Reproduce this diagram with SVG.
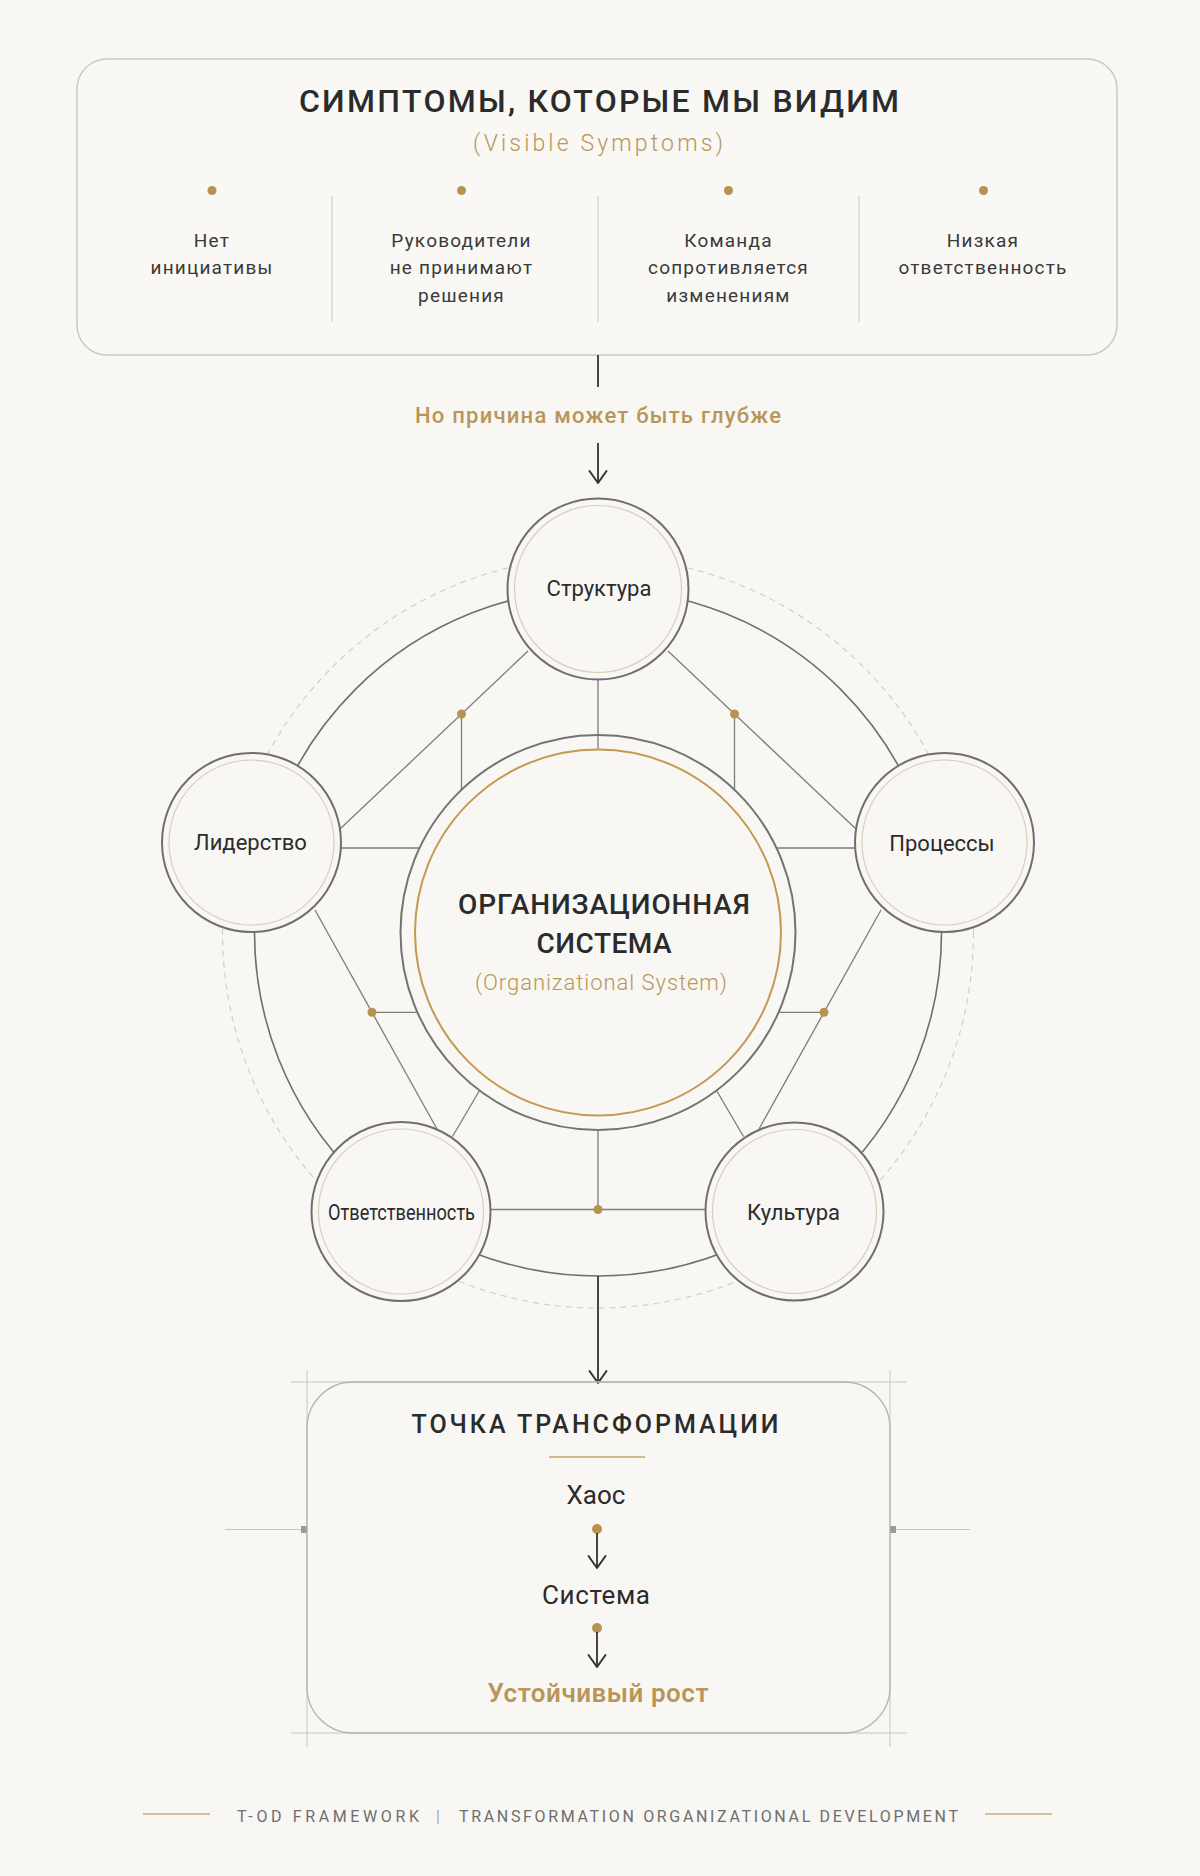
<svg xmlns="http://www.w3.org/2000/svg" width="1200" height="1876" viewBox="0 0 1200 1876">
  <defs>
    <marker id="arr" viewBox="-14 -10 16 20" refX="0" refY="0" markerWidth="16" markerHeight="20" markerUnits="userSpaceOnUse" orient="auto" overflow="visible">
      <path d="M-12,-8.5 L0,0 L-12,8.5" fill="none" stroke="#333333" stroke-width="2" stroke-linecap="round" stroke-linejoin="round"/>
    </marker>
    <style>
      .f { font-family: Roboto, "Noto Sans", "Liberation Sans", sans-serif; }
      .dark { fill: #2b2b2b; }
      .gold { fill: #b8965a; }
      .ln { stroke: #7c7c7c; stroke-width: 1.3; fill: none; }
      .ring { stroke: #6f6f6f; stroke-width: 1.6; fill: none; }
      .dash { stroke: #cfcfcf; stroke-width: 1.2; fill: none; stroke-dasharray: 6 5; }
      .dot { fill: #b8924f; }
      .arrow { stroke: #333333; stroke-width: 1.8; fill: none; }
      .node-o { fill: #f8f7f3; stroke: #6f6f6f; stroke-width: 2; }
      .node-i { fill: none; stroke: #d9cfba; stroke-width: 1.2; }
      .guide { stroke: #c6c6c6; stroke-width: 1; fill: none; }
      .item { font-size: 19px; font-weight: 400; letter-spacing: 1.2px; }
      .nlabel { font-size: 22px; font-weight: 400; }
    </style>
  </defs>

  <rect x="0" y="0" width="1200" height="1876" fill="#f8f7f3"/>

  <!-- Top symptoms box -->
  <g id="symptoms">
    <rect x="77" y="59" width="1040" height="296" rx="30" fill="#f9f8f5" stroke="#c9c9c9" stroke-width="1.5"/>
    <text class="f dark" x="599" y="112" font-size="32" font-weight="500" text-anchor="middle" textLength="600" lengthAdjust="spacing">СИМПТОМЫ, КОТОРЫЕ МЫ ВИДИМ</text>
    <text class="f gold" x="598" y="151" font-size="23" font-weight="300" text-anchor="middle" textLength="250" lengthAdjust="spacing">(Visible Symptoms)</text>
    <line class="guide" x1="332" y1="196" x2="332" y2="322" stroke="#d2d2d2"/>
    <line class="guide" x1="598" y1="196" x2="598" y2="322" stroke="#d2d2d2"/>
    <line class="guide" x1="859" y1="196" x2="859" y2="322" stroke="#d2d2d2"/>
    <circle class="dot" cx="212" cy="190.5" r="4.5"/>
    <circle class="dot" cx="461.5" cy="190.5" r="4.5"/>
    <circle class="dot" cx="728.5" cy="190.5" r="4.5"/>
    <circle class="dot" cx="983.5" cy="190.5" r="4.5"/>
    <g class="f item" fill="#3a3a3a" text-anchor="middle">
      <text x="212" y="247">Нет</text>
      <text x="212" y="274">инициативы</text>
      <text x="461.5" y="247">Руководители</text>
      <text x="461.5" y="274">не принимают</text>
      <text x="461.5" y="301.5">решения</text>
      <text x="728.5" y="247">Команда</text>
      <text x="728.5" y="274">сопротивляется</text>
      <text x="728.5" y="301.5">изменениям</text>
      <text x="983" y="247">Низкая</text>
      <text x="983" y="274">ответственность</text>
    </g>
  </g>

  <text id="cause-label" class="f gold" x="598" y="422.5" font-size="22" font-weight="500" text-anchor="middle" textLength="366" lengthAdjust="spacing">Но причина может быть глубже</text>

  <!-- Connectors -->
  <g id="connectors">
    <line x1="598" y1="355" x2="598" y2="387" class="arrow"/>
    <line x1="598" y1="443" x2="598" y2="483" class="arrow" marker-end="url(#arr)"/>

    <circle class="dash" cx="598" cy="932.5" r="375.5"/>
    <circle class="ring" cx="598" cy="932.5" r="343.5"/>

    <!-- spokes -->
    <line class="ln" x1="598" y1="680" x2="598" y2="749"/>
    <line class="ln" x1="341" y1="848" x2="420" y2="848"/>
    <line class="ln" x1="776" y1="848" x2="855" y2="848"/>
    <line class="ln" x1="479.5" y1="1090.5" x2="452.5" y2="1136.5"/>
    <line class="ln" x1="716.5" y1="1090.5" x2="743.5" y2="1136.5"/>
    <line class="ln" x1="598" y1="1130" x2="598" y2="1209.5"/>

    <!-- edges between nodes -->
    <line class="ln" x1="528" y1="651" x2="340" y2="829"/>
    <line class="ln" x1="668" y1="651" x2="856" y2="829"/>
    <line class="ln" x1="315" y1="910" x2="437" y2="1129"/>
    <line class="ln" x1="881" y1="910" x2="759" y2="1129"/>
    <line class="ln" x1="491" y1="1209.5" x2="705" y2="1209.5"/>

    <!-- branch lines from dots -->
    <line class="ln" x1="461.5" y1="714" x2="461.5" y2="790"/>
    <line class="ln" x1="734.5" y1="714" x2="734.5" y2="790"/>
    <line class="ln" x1="372" y1="1012.3" x2="417.5" y2="1012.3"/>
    <line class="ln" x1="824" y1="1012.3" x2="778.5" y2="1012.3"/>

    <circle class="dot" cx="461.5" cy="714" r="4.5"/>
    <circle class="dot" cx="734.5" cy="714" r="4.5"/>
    <circle class="dot" cx="372" cy="1012.3" r="4.5"/>
    <circle class="dot" cx="824" cy="1012.3" r="4.5"/>
    <circle class="dot" cx="598" cy="1209.5" r="4.5"/>

    <line x1="598" y1="1276" x2="598" y2="1383" class="arrow" marker-end="url(#arr)"/>
  </g>

  <!-- Central node -->
  <g id="org-system">
    <circle cx="598" cy="932.5" r="197.5" fill="none" stroke="#737373" stroke-width="2"/>
    <circle cx="598" cy="932.5" r="183" fill="#f8f7f3" stroke="#c49a52" stroke-width="2"/>
    <text class="f dark" x="604" y="914" font-size="28" font-weight="500" text-anchor="middle" textLength="292" lengthAdjust="spacing">ОРГАНИЗАЦИОННАЯ</text>
    <text class="f dark" x="604" y="953" font-size="28" font-weight="500" text-anchor="middle" textLength="135" lengthAdjust="spacing">СИСТЕМА</text>
    <text class="f gold" x="601" y="990" font-size="22" font-weight="300" text-anchor="middle" textLength="252" lengthAdjust="spacing">(Organizational System)</text>
  </g>

  <g id="node-structure">
    <circle class="node-o" cx="598" cy="589" r="90.5"/>
    <circle class="node-i" cx="598" cy="589" r="83.5"/>
    <text class="f dark nlabel" x="599" y="596" text-anchor="middle">Структура</text>
  </g>
  <g id="node-leadership">
    <circle class="node-o" cx="251.5" cy="842.5" r="89.5"/>
    <circle class="node-i" cx="251.5" cy="842.5" r="82.5"/>
    <text class="f dark nlabel" x="250.5" y="850" text-anchor="middle">Лидерство</text>
  </g>
  <g id="node-processes">
    <circle class="node-o" cx="944.5" cy="842.5" r="89.5"/>
    <circle class="node-i" cx="944.5" cy="842.5" r="82.5"/>
    <text class="f dark nlabel" x="942" y="851" text-anchor="middle">Процессы</text>
  </g>
  <g id="node-responsibility">
    <circle class="node-o" cx="401" cy="1211.5" r="89.5"/>
    <circle class="node-i" cx="401" cy="1211.5" r="82.5"/>
    <text class="f dark nlabel" x="401.5" y="1220" text-anchor="middle" textLength="147" lengthAdjust="spacingAndGlyphs">Ответственность</text>
  </g>
  <g id="node-culture">
    <circle class="node-o" cx="794.5" cy="1211.5" r="89" />
    <circle class="node-i" cx="794.5" cy="1211.5" r="82"/>
    <text class="f dark nlabel" x="793.5" y="1220" text-anchor="middle">Культура</text>
  </g>

  <!-- Transformation point -->
  <g id="transformation">
    <line class="guide" x1="291" y1="1382" x2="907" y2="1382"/>
    <line class="guide" x1="291" y1="1733" x2="907" y2="1733"/>
    <line class="guide" x1="307" y1="1370" x2="307" y2="1747"/>
    <line class="guide" x1="890" y1="1370" x2="890" y2="1747"/>
    <line class="guide" x1="225" y1="1529.5" x2="302" y2="1529.5"/>
    <line class="guide" x1="896" y1="1529.5" x2="970" y2="1529.5"/>
    <rect x="301" y="1526" width="6" height="7" fill="#9a9a9a"/>
    <rect x="890" y="1526" width="6" height="7" fill="#9a9a9a"/>
    <rect x="307" y="1382" width="583" height="351" rx="46" fill="none" stroke="#b3b3b3" stroke-width="1.3"/>
    <text class="f dark" x="595" y="1433" font-size="25" font-weight="500" text-anchor="middle" textLength="367" lengthAdjust="spacing">ТОЧКА ТРАНСФОРМАЦИИ</text>
    <line x1="549" y1="1457" x2="645" y2="1457" stroke="#c9a56a" stroke-width="1.6"/>
    <text class="f dark" x="596" y="1504" font-size="26" font-weight="400" text-anchor="middle">Хаос</text>
    <circle class="dot" cx="597" cy="1529" r="5"/>
    <line x1="597" y1="1533" x2="597" y2="1568" class="arrow" marker-end="url(#arr)"/>
    <text class="f dark" x="596" y="1604" font-size="26" font-weight="400" text-anchor="middle" textLength="108" lengthAdjust="spacing">Система</text>
    <circle class="dot" cx="597" cy="1628" r="5"/>
    <line x1="597" y1="1632" x2="597" y2="1667" class="arrow" marker-end="url(#arr)"/>
    <text class="f gold" x="598" y="1702" font-size="26" font-weight="600" text-anchor="middle" textLength="221" lengthAdjust="spacing">Устойчивый рост</text>
  </g>

  <!-- Footer -->
  <g id="footer">
    <line x1="143" y1="1814" x2="210" y2="1814" stroke="#d6c196" stroke-width="2"/>
    <line x1="985" y1="1814" x2="1052" y2="1814" stroke="#d6c196" stroke-width="2"/>
    <text class="f" x="237" y="1822" font-size="16" font-weight="400" fill="#6e6e6e" textLength="182" lengthAdjust="spacing">T-OD FRAMEWORK</text>
    <text class="f" x="438" y="1822" font-size="17" font-weight="300" fill="#8a8a8a" text-anchor="middle">|</text>
    <text class="f" x="459" y="1822" font-size="16" font-weight="400" fill="#6e6e6e" textLength="499" lengthAdjust="spacing">TRANSFORMATION ORGANIZATIONAL DEVELOPMENT</text>
  </g>
</svg>
